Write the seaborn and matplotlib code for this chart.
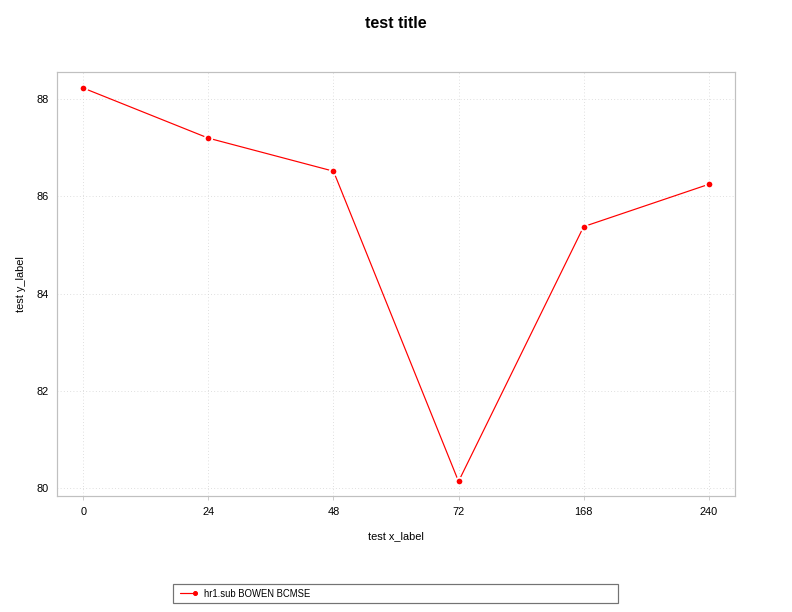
import pandas as pd
import matplotlib
matplotlib.use("Agg")
import matplotlib.pyplot as plt
from matplotlib import font_manager
from matplotlib.lines import Line2D
from matplotlib.legend_handler import HandlerLine2D
import seaborn as sns

hours = ["0", "24", "48", "72", "168", "240"]
values = [88.23, 87.2, 86.52, 80.14, 85.38, 86.25]
series_name = "hr1.sub BOWEN BCMSE"


class EndMarkerHandler(HandlerLine2D):
    # line with a single marker at its right end
    def create_artists(self, *args, **kwargs):
        artists = super().create_artists(*args, **kwargs)
        for a in artists:
            a.set_markevery([-1])
        return artists


def pick_font():
    for f in font_manager.findSystemFonts():
        if f.endswith("LiberationSans-Regular.ttf"):
            font_manager.fontManager.addfont(f)
            return font_manager.FontProperties(fname=f).get_name()
    return "DejaVu Sans"


def main():
    sns.set_style("white")
    fam = pick_font()
    plt.rcParams["font.family"] = [fam, "DejaVu Sans"]
    plt.rcParams["text.color"] = "black"
    plt.rcParams["axes.labelcolor"] = "black"
    plt.rcParams["xtick.color"] = "black"
    plt.rcParams["ytick.color"] = "black"
    df = pd.DataFrame({"hour": hours, "value": values, "series": series_name})

    fig = plt.figure(figsize=(11, 8.5), dpi=72)
    ax = fig.add_axes([57 / 792, 1 - 496 / 612, 678 / 792, 424 / 612])
    sns.lineplot(data=df, x="hour", y="value", hue="series", palette=["red"],
                 marker="o", markersize=7.5, markeredgecolor="white",
                 markeredgewidth=1.8, linewidth=1.2, ax=ax, sort=False)

    ax.set_xlim(-0.21, 5.21)
    ax.set_ylim(79.84, 88.56)
    ax.set_yticks([80, 82, 84, 86, 88])
    ax.grid(True, color="#d0d0d0", linestyle=(0, (1, 3)), linewidth=0.8)
    for s in ax.spines.values():
        s.set_color("#c0c0c0")
        s.set_linewidth(1.2)
    ax.tick_params(axis="x", length=4, color="#c0c0c0", labelsize=11,
                   direction="out", bottom=True, pad=7)
    ax.tick_params(axis="y", length=0, labelsize=11, left=True, pad=8)
    ax.set_xlabel("test x_label", fontsize=11, labelpad=14)
    ax.set_ylabel("test y_label", fontsize=11, labelpad=11)
    fig.suptitle("test title", fontsize=16, fontweight="bold", y=1 - 16 / 612)

    ax.get_legend().remove()
    handle = Line2D([], [], color="red", linewidth=1.2, marker="o", markersize=4)
    leg = fig.legend([handle], [series_name], loc="lower left",
                     bbox_to_anchor=(173 / 792, 1 - 603 / 612, 445 / 792, 20 / 612),
                     mode="expand", fontsize=9.5, frameon=True, fancybox=False,
                     handlelength=2.2, borderpad=0.45, borderaxespad=0,
                     numpoints=2, handletextpad=0.6,
                     handler_map={Line2D: EndMarkerHandler(numpoints=2)})
    leg.get_frame().set_edgecolor("#505050")
    leg.get_frame().set_linewidth(1.2)

    fig.savefig("out.png", dpi=72)


if __name__ == "__main__":
    main()
